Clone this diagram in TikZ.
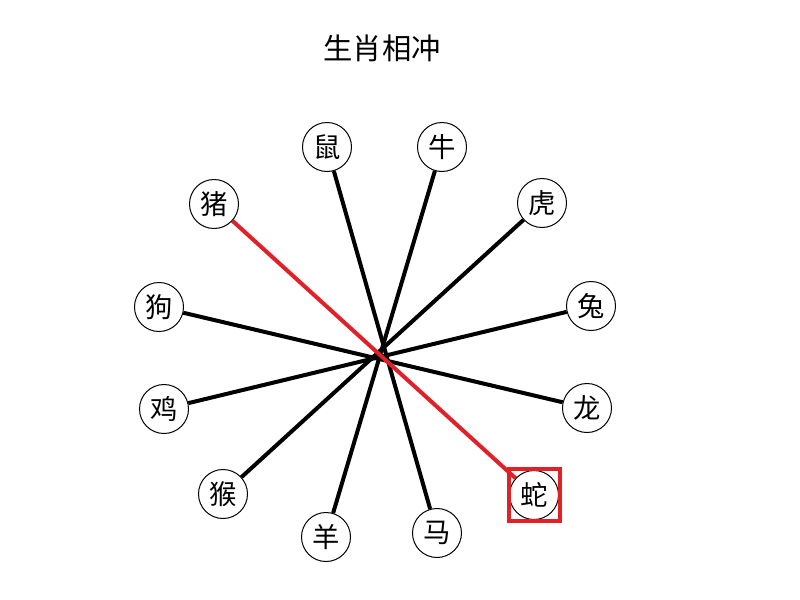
\documentclass[tikz,border=0pt]{standalone}
\usepackage{fontspec}
\setmainfont{Noto Sans CJK SC}
\definecolor{hlred}{RGB}{226,32,40}
\begin{document}
\begin{tikzpicture}[x=0.75pt,y=-0.75pt,
  animal/.style={circle,draw=black,line width=0.75pt,fill=white,inner sep=0pt,minimum size=36.75pt,font=\fontsize{20.5}{20.5}\selectfont},
  link/.style={line width=3pt,black},
  hllink/.style={line width=3pt,hlred},
  hlbox/.style={draw=hlred,line width=3pt,rectangle,minimum size=38.5pt,inner sep=0pt},
  titlestyle/.style={font=\fontsize{22}{22}\selectfont,inner sep=0pt}]
\useasboundingbox[fill=white] (0,0) rectangle (800,600);
\node[titlestyle] (title) at (382,48) {生肖相冲};
\node[animal] (shu)  at (327,147) {鼠};
\node[animal] (niu)  at (442,147) {牛};
\node[animal] (hu)   at (542,203) {虎};
\node[animal] (tu)   at (591,306) {兔};
\node[animal] (long) at (587,408) {龙};
\node[animal] (she)  at (534,495) {蛇};
\node[animal] (ma)   at (437,533) {马};
\node[animal] (yang) at (326,537) {羊};
\node[animal] (hou)  at (223,494) {猴};
\node[animal] (ji)   at (164,409) {鸡};
\node[animal] (gou)  at (159,307) {狗};
\node[animal] (zhu)  at (214,204) {猪};
\draw[link] (shu) -- (ma);
\draw[link] (niu) -- (yang);
\draw[link] (hu) -- (hou);
\draw[link] (tu) -- (ji);
\draw[link] (long) -- (gou);
\draw[hllink] (zhu) -- (she);
\node[hlbox] (box) at (534.5,495) {};
\end{tikzpicture}
\end{document}
